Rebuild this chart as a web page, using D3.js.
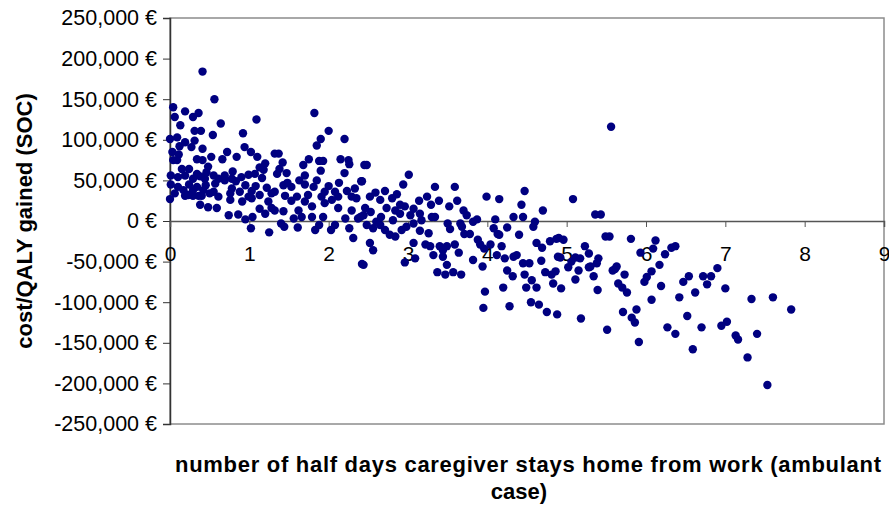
<!DOCTYPE html>
<html>
<head>
<meta charset="utf-8">
<script src="https://cdn.jsdelivr.net/npm/d3@7"></script>
<style>
  body { margin: 0; background: #fff; }
  svg { display: block; font-family: "Liberation Sans", Arial, sans-serif; }
</style>
</head>
<body>
<div id="chart"></div>
<script>
// number of half days caregiver stays home (x) and cost per QALY gained in thousand € (y)
var halfDays = [
  0.41,0.56,0.04,0.06,0.19,0.36,0.29,0.13,0.64,1.09,1.82,0.31,0.39,0.54,0.92,2.0,0.0,0.09,0.31,0.19,
  0.27,0.12,0.41,1.9,1.85,2.2,0.94,0.72,1.02,1.10,1.32,1.37,0.03,0.11,0.04,0.09,0.66,0.84,0.34,0.41,
  0.52,1.2,1.42,1.75,1.88,1.93,2.15,2.25,2.26,2.45,1.68,0.15,0.24,0.48,0.79,1.13,1.18,1.38,1.47,1.9,2.2,
  0.01,0.19,0.38,0.55,0.69,0.99,1.07,1.16,1.35,1.48,1.63,1.70,1.85,2.0,2.13,2.33,2.41,
  0.01,0.1,0.24,0.34,0.45,0.57,0.69,0.83,0.95,1.08,1.22,1.43,1.53,1.7,1.81,1.95,2.08,2.23,
  0.06,0.23,0.36,0.5,0.61,0.76,0.88,0.99,1.13,1.28,1.45,1.6,1.74,1.91,2.12,2.29,
  0.1,0.29,0.46,0.61,0.78,0.9,0.17,0.29,0.42,0.55,0.78,1.03,1.32,0.44,0.34,
  0.0,0.19,0.29,0.4,0.38,0.48,0.59,0.74,0.86,0.95,1.04,1.02,1.25,1.13,1.2,1.32,1.43,1.4,1.44,1.56,
  1.61,1.66,1.79,1.83,1.88,1.93,2.03,2.08,2.21,2.26,2.31,2.42,2.37,
  0.76,0.91,1.03,1.24,1.28,1.53,1.62,1.7,1.79,1.95,2.04,2.12,2.29,2.35,
  2.48,2.42,3.01,2.94,2.71,2.59,2.52,2.86,2.8,3.34,3.59,3.24,3.14,3.39,3.62,3.99,4.15,4.47,4.43,4.7,
  3.52,3.7,3.74,3.29,3.3,3.34,3.07,2.96,2.46,2.4,3.87,4.1,4.33,4.45,4.6,4.58,
  2.48,2.56,2.65,2.71,2.77,2.84,2.92,2.98,3.07,3.17,2.81,2.6,
  2.65,2.73,2.84,2.9,3.03,3.15,2.9,2.66,2.53,2.44,
  2.52,2.56,2.44,2.96,3.09,3.22,3.28,3.32,3.07,3.15,3.26,3.4,3.44,3.49,3.59,3.64,3.44,3.49,3.37,3.47,
  3.57,3.67,3.5,3.53,3.66,3.68,3.71,3.78,3.82,3.88,3.91,3.96,4.04,3.82,3.94,4.08,4.13,4.15,4.25,4.4,
  4.12,4.18,4.22,4.25,4.33,4.37,4.32,4.45,4.53,4.47,4.56,4.2,3.97,4.49,4.62,4.62,4.69,4.68,4.73,4.81,
  4.83,4.79,4.87,4.89,
  3.95,4.28,4.55,4.65,4.75,4.88,4.93,5.11,5.18,5.39,
  5.08,5.36,5.43,5.49,5.54,5.81,6.12,6.09,5.93,6.24,6.32,6.37,6.17,6.07,6.01,5.98,6.19,6.9,6.82,6.72,
  6.77,7.0,6.54,6.47,6.62,6.42,6.07,7.33,7.6,5.73,5.63,5.61,5.58,5.65,5.7,5.76,5.34,5.4,5.38,5.3,
  5.28,5.28,5.23,5.15,5.02,5.06,5.11,5.17,4.92,4.9,4.96,4.86,
  5.51,5.71,5.82,5.86,5.88,5.91,6.27,6.37,6.52,6.59,6.7,6.95,7.02,7.13,7.16,7.28,7.4,7.53,7.83,
  5.56
];
var costK = [
  184,150,140,128,135,133,128,118,120,125,133,111,111,106,108,111,101,103,99,97,
  91,92,89,101,93,101,91,85,85,79,83,83,85,82,75,75,76,79,76,75,
  79,71,72,76,74,74,76,75,70,69,69,64,64,67,61,66,63,64,59,62,59,
  56,56,55,56,56,57,58,53,58,47,50,56,50,43,47,40,49,
  45,42,45,42,44,46,50,49,44,43,41,44,42,45,42,36,36,37,
  34,32,31,34,30,34,36,30,32,34,31,30,32,30,30,30,
  54,52,60,52,52,54,38,38,38,36,40,37,36,52,58,
  27,31,31,31,20,17,16,7,8,2,5,-9,-14,15,9,13,12,-3,-7,3,
  -8,5,5,-11,-5,5,-11,-5,3,-9,-21,-53,3,
  26,24,28,24,16,25,13,24,18,22,26,16,13,28,
  69,49,57,45,37,35,30,33,28,42,42,30,25,25,25,30,27,37,20,13,
  18,13,7,20,5,5,15,18,16,5,2,2,5,5,-1,-7,
  -5,-9,-5,-11,-17,-19,-11,-7,-3,1,1,-1,
  26,16,13,9,7,9,20,5,11,7,
  -27,-36,-54,-51,-46,-29,-31,-42,-27,-12,-15,-31,-36,-31,-29,-39,-44,-54,-63,-66,
  -63,-66,-3,-10,-3,-7,-16,-16,-1,-23,-29,-34,-29,-48,-56,-9,-16,-17,-8,-17,
  -42,-31,-46,-61,-44,-42,-68,-52,-52,-66,-73,-82,-87,-82,-82,-27,-33,-49,-63,-66,
  -77,-25,-22,-44,
  -107,-105,-100,-103,-112,-115,-83,-72,-120,-85,
  27,8,8,-19,-19,-22,-24,-34,-39,-41,-33,-31,-54,-62,-69,-75,-80,-58,-68,-68,
  -78,-83,-68,-75,-88,-94,-97,-96,-94,-66,-56,-59,-61,-77,-82,-88,-68,-46,-52,-56,
  -57,-40,-31,-61,-57,-50,-45,-46,-45,-21,-23,-62,
  -134,-112,-119,-125,-109,-149,-131,-139,-117,-158,-131,-129,-124,-141,-146,-168,-139,-202,-109,
  116
];
var xTicks = [0, 1, 2, 3, 4, 5, 6, 7, 8, 9];
var yTicks = [250000, 200000, 150000, 100000, 50000, 0, -50000, -100000, -150000, -200000, -250000];
var yTitle = "cost/QALY gained (SOC)";
var xTitle = ["number of half days caregiver stays home from work (ambulant", "case)"];

var width = 889, height = 506;
var margin = { top: 18, right: 5, bottom: 82, left: 170 };

var points = halfDays.map(function(d, i) { return { x: d, y: costK[i] * 1000 }; });

var svg = d3.select("#chart").append("svg")
  .attr("width", width)
  .attr("height", height);

var x = d3.scaleLinear().domain([0, 9]).range([margin.left, width - margin.right]);
var y = d3.scaleLinear().domain([-250000, 250000]).range([height - margin.bottom, margin.top]);

var loc = d3.formatLocale({ decimal: ".", thousands: ",", grouping: [3], currency: ["", ""], minus: "-" });
var fmt = loc.format(",");

// plot frame
svg.append("rect")
  .attr("x", x(0))
  .attr("y", y(250000))
  .attr("width", x(9) - x(0))
  .attr("height", y(-250000) - y(250000))
  .attr("fill", "none")
  .attr("stroke", "#8c8c8c")
  .attr("stroke-width", 1.5);

// y axis
var yAxis = svg.append("g")
  .attr("transform", "translate(" + x(0) + ",0)")
  .call(d3.axisLeft(y).tickValues(yTicks).tickSize(7).tickPadding(6)
    .tickFormat(function(d) { return fmt(d) + " €"; }));
yAxis.select(".domain").attr("stroke", "#333").attr("stroke-width", 1.5);
yAxis.selectAll(".tick line").attr("stroke", "#333");
yAxis.selectAll("text").attr("font-size", 21.5).attr("fill", "#000")
  .style("font-family", "Liberation Sans, Arial, sans-serif");

// x axis sits on the zero line
var xAxis = svg.append("g")
  .attr("transform", "translate(0," + y(0) + ")")
  .call(d3.axisBottom(x).tickValues(xTicks).tickSize(6).tickPadding(19));
xAxis.select(".domain").attr("stroke", "#555").attr("stroke-width", 1.5);
xAxis.selectAll(".tick line").attr("stroke", "#555");
xAxis.selectAll("text").attr("font-size", 21).attr("fill", "#000")
  .style("font-family", "Liberation Sans, Arial, sans-serif");

// dots
svg.append("g")
  .selectAll("circle")
  .data(points)
  .enter().append("circle")
  .attr("cx", function(d) { return x(d.x); })
  .attr("cy", function(d) { return y(d.y); })
  .attr("r", 4.2)
  .attr("fill", "#000080");

// titles
svg.append("text")
  .attr("transform", "translate(32," + y(0) + ") rotate(-90)")
  .attr("text-anchor", "middle")
  .attr("font-size", 22)
  .attr("font-weight", "bold")
  .text(yTitle);

var xt = svg.append("text")
  .attr("text-anchor", "middle")
  .attr("font-size", 22)
  .attr("font-weight", "bold");
xt.append("tspan").attr("x", 528).attr("y", 472)
  .attr("textLength", 706).attr("lengthAdjust", "spacing")
  .text(xTitle[0]);
xt.append("tspan").attr("x", 519).attr("y", 499).text(xTitle[1]);
</script>
</body>
</html>
